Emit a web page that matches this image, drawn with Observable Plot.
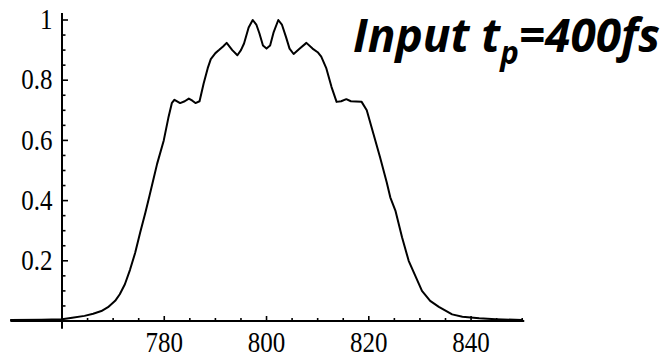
<!DOCTYPE html>
<html><head><meta charset="utf-8">
<script src="https://cdn.jsdelivr.net/npm/d3@7"></script>
<script src="https://cdn.jsdelivr.net/npm/@observablehq/plot@0.6"></script>
<style>
body{margin:0;background:#fff;}
#chart{position:relative;width:666px;height:357px;}
</style>
</head><body><div id="chart"></div>
<script>
// Spectrum: wavelength (nm) vs normalized intensity
const wavelength = [750,756,760,762,764.4,766.1,767.7,769.0,770.4,771.3,772.3,773.3,774.3,775.3,776.3,777.1,777.8,778.6,779.9,780.8,781.5,782.0,783.1,784.0,784.8,785.5,786.1,786.9,787.7,788.5,789.1,790.0,790.7,791.5,792.2,793.3,794.3,795.0,795.6,796.5,797.3,798.0,798.6,799.3,800.0,800.7,801.4,802.3,803.0,803.8,804.5,805.3,806.5,807.8,809.0,810.0,810.7,811.7,812.7,813.7,814.6,815.6,816.5,817.5,818.6,819.6,820.9,822.2,823.5,824.2,825.2,826.5,827.8,829.1,830.4,832.0,833.7,836.3,838.3,841.6,844.8,850.0];
const intensity = [0.003,0.004,0.006,0.011,0.017,0.024,0.033,0.046,0.067,0.089,0.122,0.170,0.226,0.295,0.360,0.415,0.465,0.522,0.600,0.675,0.725,0.735,0.724,0.730,0.739,0.732,0.724,0.730,0.789,0.840,0.870,0.890,0.900,0.912,0.924,0.900,0.883,0.900,0.922,0.975,1.0,0.985,0.956,0.915,0.905,0.915,0.960,1.0,0.985,0.944,0.905,0.887,0.905,0.924,0.905,0.893,0.878,0.839,0.778,0.728,0.730,0.737,0.730,0.729,0.728,0.700,0.622,0.544,0.461,0.411,0.367,0.278,0.200,0.150,0.100,0.067,0.047,0.022,0.014,0.009,0.006,0.003];

const xMajorTicks = [780, 800, 820, 840];
const xMinorTicks = [765,770,775,785,790,795,805,810,815,825,830,835,845,850];
const yMajorTicks = [0.2, 0.4, 0.6, 0.8, 1];
const yMinorTicks = [0.05,0.1,0.15,0.25,0.3,0.35,0.45,0.5,0.55,0.65,0.7,0.75,0.85,0.9,0.95];
const xAxisExtent = [750, 850.5];
const yAxisExtent = [-0.027, 1.022];
const yAxisAt = 760;
const titleParts = ["Input t", "p", "=400fs"];

const data = wavelength.map((w, i) => ({w, v: intensity[i]}));

const chart = Plot.plot({
  width: 666,
  height: 357,
  marginLeft: 61.5,
  marginRight: 144.3,
  marginTop: 19.5,
  marginBottom: 36.5,
  style: {fontFamily: "'Liberation Serif', 'Times New Roman', serif", fontSize: "25px", background: "#fff", color: "#000", overflow: "visible"},
  x: {domain: [760, 850], axis: null},
  y: {domain: [0, 1], axis: null},
  marks: [
    // x axis line
    Plot.ruleY([0], {x1: xAxisExtent[0], x2: xAxisExtent[1], stroke: "#000", strokeWidth: 2}),
    // y axis line
    Plot.ruleX([yAxisAt], {y1: yAxisExtent[0], y2: yAxisExtent[1], stroke: "#000", strokeWidth: 2}),
    // x ticks (inward / upward)
    Plot.ruleX(xMajorTicks, {x: d => d, y1: 0, y2: 0, insetTop: -4.5, stroke: "#000", strokeWidth: 1.6}),
    Plot.ruleX(xMinorTicks, {x: d => d, y1: 0, y2: 0, insetTop: -2.5, stroke: "#000", strokeWidth: 1.6}),
    // y ticks (inward / rightward)
    Plot.ruleY(yMajorTicks, {y: d => d, x1: yAxisAt, x2: yAxisAt, insetRight: -6.5, stroke: "#000", strokeWidth: 1.6}),
    Plot.ruleY(yMinorTicks, {y: d => d, x1: yAxisAt, x2: yAxisAt, insetRight: -4, stroke: "#000", strokeWidth: 1.6}),
    // tick labels
    Plot.axisX({ticks: xMajorTicks, tickSize: 0, tickPadding: 10.5, tickFormat: d => String(d), fontSize: 25, label: null}),
    Plot.axisY({ticks: yMajorTicks, tickSize: 0, tickPadding: 9.5, tickFormat: d => String(d), fontSize: 25, label: null}),
    // spectrum curve
    Plot.line(data, {x: "w", y: "v", stroke: "#000", strokeWidth: 2, strokeLinejoin: "round"})
  ]
});

document.getElementById("chart").appendChild(chart);

// Tall, narrow serif look of the original tick labels
d3.select(chart).selectAll('g[aria-label$="tick label"] text').each(function() {
  const t = this.getAttribute("transform");
  if (t) this.setAttribute("transform", t + " scale(1,1.16)");
  else {
    const x = +this.getAttribute("x") || 0, y = +this.getAttribute("y") || 0;
    this.removeAttribute("x"); this.removeAttribute("y");
    this.setAttribute("transform", `translate(${x},${y}) scale(1,1.16)`);
  }
});

// Title "Input t_p=400fs"
const svg = d3.select(chart);
const title = svg.append("text")
  .attr("x", 353).attr("y", 52.5)
  .attr("text-anchor", "start")
  .attr("font-family", "'Open Sans', 'DejaVu Sans', sans-serif")
  .attr("font-weight", 700)
  .attr("font-style", "italic")
  .attr("font-size", 47)
  .attr("fill", "#000");
title.append("tspan").text(titleParts[0]);
title.append("tspan").attr("font-size", 32).attr("dy", 12).text(titleParts[1]);
title.append("tspan").attr("dy", -12).text(titleParts[2]);
const bb = title.node().getBBox();
const k = 307 / bb.width;
title.attr("transform", `translate(${353},0) scale(${k},1) translate(${-353},0)`);
</script>
</body></html>
